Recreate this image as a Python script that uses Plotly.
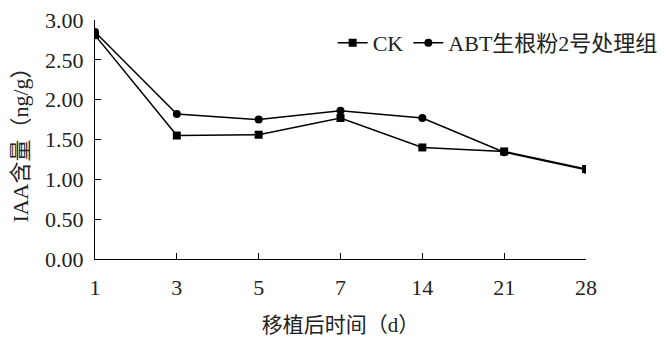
import plotly.graph_objects as go

days = ["1", "3", "5", "7", "14", "21", "28"]
ck = [2.81, 1.55, 1.56, 1.77, 1.40, 1.35, 1.13]
abt = [2.85, 1.82, 1.75, 1.86, 1.77, 1.34, 1.12]
y_ticks = [0, 0.5, 1.0, 1.5, 2.0, 2.5, 3.0]

FONT = "Liberation Serif, Times New Roman, Noto Sans CJK SC"
xpos = list(range(len(days)))

fig = go.Figure()
fig.add_trace(go.Scatter(x=xpos, y=ck, name="CK", mode="lines+markers",
                         line=dict(color="black", width=1.5),
                         marker=dict(symbol="square", size=8, color="black")))
fig.add_trace(go.Scatter(x=xpos, y=abt, name="ABT生根粉2号处理组", mode="lines+markers",
                         line=dict(color="black", width=1.5),
                         marker=dict(symbol="circle", size=8, color="black")))

fig.update_layout(
    width=666, height=339,
    margin=dict(l=95, r=80, t=20, b=80, autoexpand=False),
    paper_bgcolor="white", plot_bgcolor="white",
    font=dict(family=FONT, size=22, color="#222"),
    showlegend=True,
    legend=dict(orientation="h", xref="container", yref="container",
                x=0.995, xanchor="right", y=0.873, yanchor="middle",
                font=dict(size=22), bgcolor="rgba(0,0,0,0)", itemwidth=30,
                tracegroupgap=0),
    xaxis=dict(range=[0, 6], tickmode="array", tickvals=xpos, ticktext=days,
               showline=True, linecolor="black", linewidth=1.2,
               ticks="inside", ticklen=6, tickcolor="black", showgrid=False, zeroline=False,
               ticklabelstandoff=8, tickfont=dict(size=22),
               title=dict(text="移植后时间（d）", font=dict(size=21), standoff=18)),
    yaxis=dict(range=[0, 3.0], tickmode="array", tickvals=y_ticks,
               ticktext=[f"{v:.2f}" for v in y_ticks],
               showline=True, linecolor="black", linewidth=1.2,
               ticks="inside", ticklen=6, tickcolor="black", showgrid=False, zeroline=False,
               ticklabelstandoff=6, tickfont=dict(size=22),
               title=dict(text="IAA含量（ng/g）", font=dict(size=22), standoff=10)),
)
fig.write_html("out.html")
